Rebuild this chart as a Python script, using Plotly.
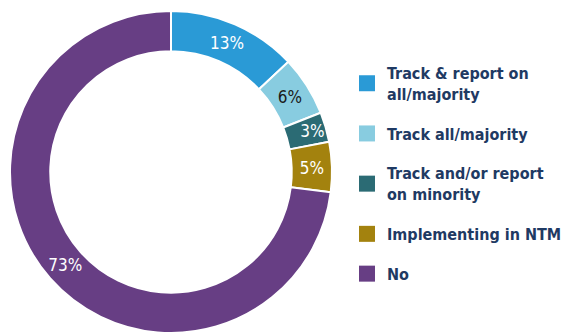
import plotly.graph_objects as go

# Share of respondents by tracking / reporting status
categories = [
    "Track & report on<br>all/majority",
    "Track all/majority",
    "Track and/or report<br>on minority",
    "Implementing in NTM",
    "No",
]
shares = [13, 6, 3, 5, 73]
slice_colors = ["#2A9AD6", "#88CCE0", "#2B6B74", "#A3820E", "#673E84"]
label_colors = ["white", "#1a1a1a", "white", "white", "white"]

FONT = "DejaVu Sans Condensed, Roboto, sans-serif"

fig = go.Figure()
fig.add_trace(
    go.Pie(
        labels=categories,
        values=shares,
        hole=0.75,
        sort=False,
        direction="clockwise",
        rotation=0,
        marker=dict(colors=slice_colors, line=dict(color="white", width=2)),
        texttemplate="%{value}%",
        textposition="inside",
        insidetextorientation="horizontal",
        textfont=dict(family=FONT, size=17, color=label_colors),
        domain=dict(x=[10 / 563, 332 / 563], y=[0, 1 - 11 / 333]),
        hoverinfo="label+percent",
        showlegend=False,
    )
)

# Legend entries, one group per category so the groups can be spaced apart
for name, color in zip(categories, slice_colors):
    fig.add_trace(
        go.Scatter(
            x=[None],
            y=[None],
            mode="markers",
            name=name,
            legendgroup=name,
            marker=dict(symbol="square", size=16, color=color),
            hoverinfo="skip",
        )
    )

fig.update_layout(
    width=563,
    height=333,
    margin=dict(l=0, r=0, t=0, b=0, autoexpand=False),
    paper_bgcolor="white",
    plot_bgcolor="white",
    xaxis=dict(visible=False),
    yaxis=dict(visible=False),
    uniformtext=dict(minsize=17, mode="show"),
    showlegend=True,
    legend=dict(
        x=0.6163,
        y=0.832,
        xanchor="left",
        yanchor="top",
        traceorder="grouped",
        tracegroupgap=16,
        font=dict(family=FONT, size=16, color="#1F3A63", weight="bold"),
        itemclick=False,
        itemdoubleclick=False,
    ),
)

fig.write_html("out.html")
